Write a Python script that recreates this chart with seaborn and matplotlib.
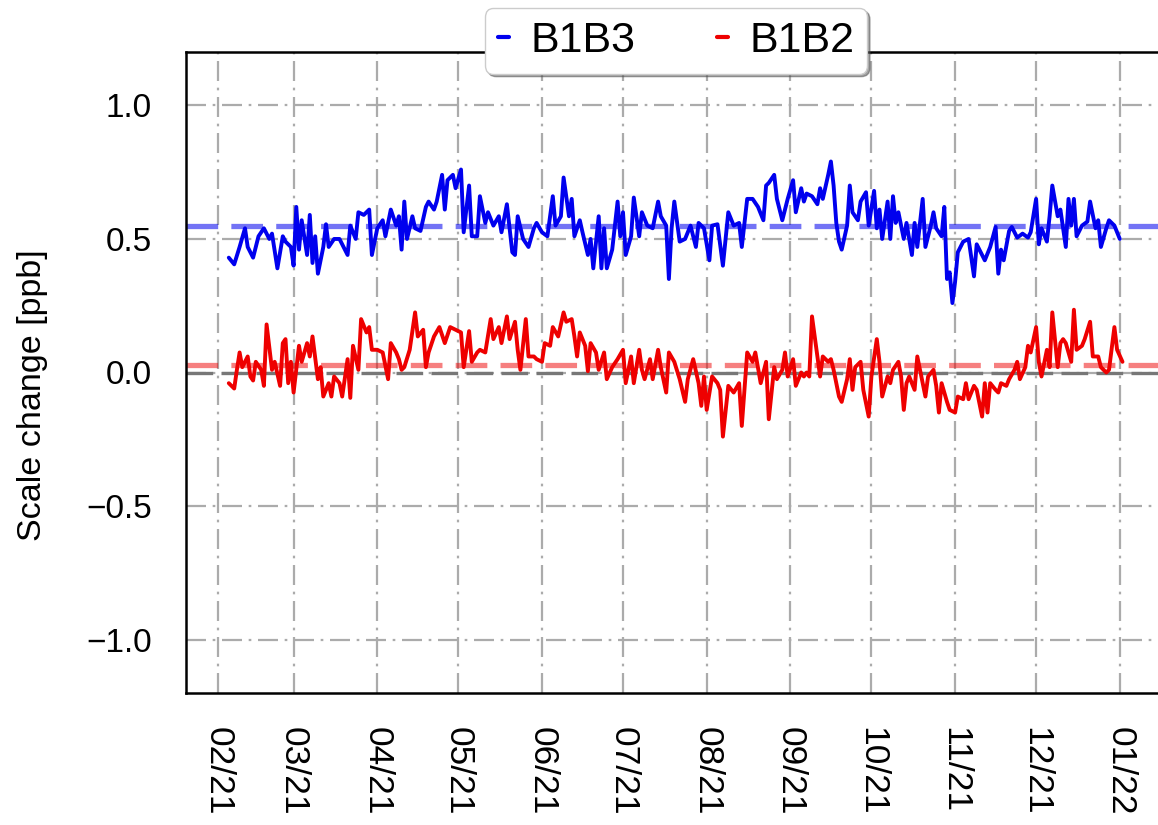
import numpy as np
import pandas as pd
import matplotlib
matplotlib.use("Agg")
import matplotlib.pyplot as plt
import matplotlib.dates as mdates
import seaborn as sns

# Day offsets from 2021-02-01 and daily scale change values [ppb]
b1b3_days = [4, 6, 8, 10, 11, 13, 15, 17, 19, 20, 22, 24, 25, 27, 28, 29, 30, 31, 33, 34,
             35, 36, 37, 39, 40, 41, 43, 45, 46, 48, 49, 51, 52, 54, 56, 57, 59, 61, 62, 64,
             66, 67, 68, 69, 70, 72, 73, 75, 77, 78, 80, 81, 83, 84, 85, 87, 88, 90, 91, 93,
             94, 96, 97, 99, 100, 102, 104, 105, 107, 109, 110, 111, 113, 115, 117, 118, 120, 122, 124, 125,
             127, 128, 130, 131, 132, 134, 135, 137, 138, 139, 141, 142, 143, 144, 146, 148, 149, 150, 151, 153,
             154, 156, 157, 159, 161, 163, 164, 166, 167, 168, 169, 171, 173, 175, 177, 178, 180, 182, 183, 185,
             187, 189, 191, 193, 194, 196, 198, 200, 202, 203, 204, 206, 207, 209, 211, 213, 214, 216, 217, 218,
             220, 222, 223, 224, 226, 227, 228, 229, 230, 231, 233, 234, 235, 237, 238, 240, 241, 243, 244, 245,
             246, 248, 249, 250, 251, 252, 254, 255, 257, 258, 259, 261, 262, 264, 265, 266, 268, 269, 270, 271,
             272, 273, 274, 276, 278, 280, 281, 282, 284, 286, 288, 289, 290, 291, 293, 294, 296, 298, 300, 301,
             303, 304, 305, 307, 308, 309, 311, 312, 314, 315, 316, 317, 318, 320, 322, 323, 325, 326, 327, 329,
             330, 332, 334]
b1b3_vals = [0.43, 0.405, 0.47, 0.54, 0.47, 0.43, 0.51, 0.54, 0.50, 0.52, 0.39, 0.51, 0.49, 0.47, 0.40, 0.62, 0.46, 0.57, 0.44, 0.59,
             0.41, 0.51, 0.37, 0.47, 0.555, 0.47, 0.50, 0.50, 0.48, 0.44, 0.55, 0.50, 0.60, 0.59, 0.61, 0.44, 0.54, 0.57, 0.51, 0.61,
             0.55, 0.585, 0.46, 0.64, 0.50, 0.585, 0.54, 0.53, 0.62, 0.64, 0.61, 0.64, 0.74, 0.61, 0.72, 0.74, 0.69, 0.76, 0.525, 0.70,
             0.51, 0.51, 0.66, 0.56, 0.60, 0.55, 0.585, 0.525, 0.63, 0.45, 0.44, 0.585, 0.50, 0.47, 0.54, 0.56, 0.525, 0.51, 0.66, 0.55,
             0.585, 0.73, 0.585, 0.65, 0.51, 0.57, 0.525, 0.44, 0.50, 0.39, 0.585, 0.39, 0.54, 0.39, 0.46, 0.64, 0.51, 0.60, 0.44, 0.51,
             0.655, 0.51, 0.60, 0.55, 0.54, 0.64, 0.585, 0.55, 0.35, 0.54, 0.64, 0.49, 0.50, 0.55, 0.47, 0.56, 0.54, 0.42, 0.55, 0.555,
             0.40, 0.60, 0.55, 0.56, 0.47, 0.65, 0.65, 0.62, 0.57, 0.70, 0.71, 0.74, 0.65, 0.57, 0.65, 0.72, 0.60, 0.69, 0.64, 0.67,
             0.66, 0.63, 0.69, 0.65, 0.74, 0.79, 0.70, 0.56, 0.49, 0.46, 0.55, 0.70, 0.60, 0.57, 0.64, 0.675, 0.55, 0.68, 0.54, 0.61,
             0.50, 0.64, 0.50, 0.66, 0.56, 0.60, 0.50, 0.56, 0.44, 0.56, 0.47, 0.65, 0.47, 0.55, 0.60, 0.54, 0.51, 0.62, 0.35, 0.375,
             0.26, 0.34, 0.45, 0.49, 0.50, 0.36, 0.48, 0.46, 0.42, 0.47, 0.545, 0.37, 0.46, 0.42, 0.53, 0.545, 0.505, 0.52, 0.505, 0.525,
             0.65, 0.48, 0.54, 0.49, 0.585, 0.70, 0.585, 0.61, 0.47, 0.65, 0.55, 0.65, 0.51, 0.55, 0.565, 0.64, 0.54, 0.57, 0.47, 0.54,
             0.57, 0.55, 0.50]

b1b2_days = [4, 6, 7, 8, 9, 11, 12, 13, 14, 16, 17, 18, 20, 21, 23, 24, 25, 26, 27, 28,
             30, 31, 33, 34, 35, 37, 38, 39, 41, 42, 43, 45, 46, 48, 49, 50, 52, 53, 55, 56,
             57, 59, 61, 63, 64, 66, 67, 68, 69, 71, 73, 74, 76, 77, 78, 80, 82, 84, 86, 88,
             90, 91, 93, 94, 96, 97, 99, 101, 102, 104, 105, 107, 108, 110, 111, 112, 114, 115, 117, 118,
             120, 121, 123, 124, 126, 128, 129, 131, 132, 133, 134, 136, 137, 138, 140, 141, 143, 144, 146, 148,
             150, 151, 153, 154, 156, 157, 158, 160, 161, 163, 164, 166, 167, 169, 171, 173, 174, 176, 178, 179,
             180, 181, 183, 185, 186, 187, 189, 191, 193, 194, 196, 198, 199, 201, 203, 204, 206, 207, 209, 210,
             211, 213, 214, 216, 217, 218, 219, 220, 222, 223, 224, 226, 227, 228, 229, 230, 231, 233, 234, 235,
             236, 238, 239, 241, 242, 244, 245, 246, 248, 249, 250, 252, 253, 254, 255, 256, 258, 259, 261, 262,
             263, 265, 266, 267, 268, 270, 271, 273, 274, 276, 277, 278, 280, 281, 283, 284, 285, 286, 288, 289,
             290, 292, 293, 295, 296, 297, 299, 300, 301, 303, 304, 305, 307, 308, 309, 311, 312, 313, 314, 316,
             317, 318, 320, 321, 323, 324, 326, 327, 329, 330, 332, 333, 335]
b1b2_vals = [-0.04, -0.06, 0.01, 0.075, 0.02, 0.06, -0.015, -0.03, 0.04, 0.01, -0.05, 0.18, 0.01, 0.04, -0.05, 0.11, 0.125, -0.04, 0.04, -0.075,
             0.10, 0.04, 0.11, 0.06, 0.135, -0.025, 0.02, -0.09, -0.04, -0.09, -0.015, -0.04, -0.09, 0.05, -0.095, 0.10, 0.01, 0.20, 0.15, 0.17,
             0.085, 0.085, 0.075, -0.025, 0.11, 0.075, 0.05, 0.01, 0.02, 0.085, 0.225, 0.135, 0.16, 0.02, 0.075, 0.135, 0.17, 0.11, 0.17, 0.16,
             0.15, 0.02, 0.155, 0.04, 0.075, 0.085, 0.075, 0.20, 0.125, 0.17, 0.11, 0.21, 0.125, 0.19, 0.085, 0.01, 0.20, 0.06, 0.06, 0.05,
             0.04, 0.11, 0.10, 0.17, 0.135, 0.225, 0.19, 0.20, 0.135, 0.06, 0.15, 0.10, 0.005, 0.11, 0.075, 0.01, 0.075, -0.025, 0.02, 0.05,
             0.085, -0.04, 0.06, -0.04, 0.085, 0.01, -0.025, 0.05, -0.025, 0.085, 0.02, -0.075, 0.075, 0.04, -0.025, -0.11, -0.025, 0.05, -0.04, -0.125,
             -0.015, -0.14, -0.015, -0.04, -0.065, -0.24, -0.05, -0.075, -0.04, -0.20, 0.075, 0.04, 0.075, -0.04, 0.04, -0.175, 0.02, -0.025, 0.01, 0.075,
             -0.015, 0.05, -0.05, 0.0, -0.015, 0.0, -0.015, 0.21, 0.06, -0.015, 0.06, 0.04, 0.05, 0.01, -0.04, -0.09, -0.11, -0.025, 0.05, -0.065,
             0.02, 0.04, -0.065, -0.165, -0.015, 0.125, 0.04, -0.09, -0.015, -0.04, 0.01, 0.04, -0.015, -0.14, -0.04, -0.015, -0.065, 0.06, -0.04, -0.09,
             -0.015, 0.01, -0.05, -0.15, -0.04, -0.11, -0.14, -0.15, -0.09, -0.10, -0.04, -0.10, -0.05, -0.065, -0.165, -0.04, -0.15, -0.04, -0.065, -0.075,
             -0.04, -0.05, -0.025, 0.01, 0.04, -0.025, 0.02, 0.10, 0.075, 0.17, 0.04, -0.015, 0.085, 0.02, 0.225, 0.02, 0.11, 0.125, 0.11, 0.04,
             0.235, 0.085, 0.10, 0.125, 0.19, 0.06, 0.06, 0.02, 0.0, 0.01, 0.17, 0.085, 0.04]

# Mean offsets drawn as reference lines
b1b3_mean = 0.55
b1b2_mean = 0.028

series_names = ["B1B3", "B1B2"]
series_colors = ["#0000ee", "#ee0000"]
y_ticks = [-1.0, -0.5, 0.0, 0.5, 1.0]

start = pd.Timestamp("2021-02-01")
df = pd.concat([
    pd.DataFrame({"date": start + pd.to_timedelta(b1b3_days, unit="D"),
                  "value": b1b3_vals, "pair": series_names[0]}),
    pd.DataFrame({"date": start + pd.to_timedelta(b1b2_days, unit="D"),
                  "value": b1b2_vals, "pair": series_names[1]}),
], ignore_index=True)

sns.set_style("white")
plt.rcParams["font.family"] = ["Liberation Sans", "DejaVu Sans"]
plt.rcParams["text.color"] = "black"
plt.rcParams["axes.labelcolor"] = "black"
plt.rcParams["xtick.color"] = "black"
plt.rcParams["ytick.color"] = "black"

W, H = 1158, 825
fig = plt.figure(figsize=(W / 100, H / 100), dpi=100)
ax = fig.add_axes([186 / W, 132 / H, 1004 / W, 641 / H])

grid_style = dict(color="#ababab", lw=1.6, ls=(0, (9, 3, 1.2, 3)))
ax.grid(True, **grid_style)
ax.set_axisbelow(True)

ax.axhline(0.0, color="#777777", lw=2.4, ls=(0, (8, 2.5)), zorder=1.5)
ax.axhline(b1b3_mean, color=series_colors[0], alpha=0.55, lw=3.8, ls=(0, (6, 2.5)), zorder=1.6)
ax.axhline(b1b2_mean, color=series_colors[1], alpha=0.5, lw=3.8, ls=(0, (6, 2.5)), zorder=1.6)

sns.lineplot(data=df, x="date", y="value", hue="pair", hue_order=series_names,
             palette=series_colors, lw=2.8, ax=ax, legend=False, zorder=3)

ax.set_xlim(start - pd.Timedelta(days=11.85), start + pd.Timedelta(days=360))
ax.set_ylim(-1.2, 1.2)
ax.set_yticks(y_ticks)
ax.set_xlabel("")
ax.set_ylabel("Scale change [ppb]", fontsize=24.5)
ax.yaxis.set_label_coords(-0.137, 0.465)

ax.xaxis.set_major_locator(mdates.MonthLocator())
ax.xaxis.set_major_formatter(mdates.DateFormatter("%m/%y"))
ax.tick_params(axis="both", which="major", direction="out", length=11.5, width=1.6,
               color="black")
ax.tick_params(axis="y", labelsize=24, pad=13)
ax.tick_params(axis="x", labelsize=25.5, labelrotation=270, pad=13)

for side in ["left", "bottom", "top"]:
    ax.spines[side].set_visible(True)
    ax.spines[side].set_color("black")
    ax.spines[side].set_linewidth(1.8)

handles = [plt.Line2D([], [], color=c, lw=3.0) for c in series_colors]
leg = fig.legend(handles, series_names, loc="upper center",
                 bbox_to_anchor=(676 / W, 1 - 8 / H), ncol=2, fontsize=31,
                 handlelength=0.25, handletextpad=0.5, columnspacing=1.9,
                 frameon=True, fancybox=True, shadow=True, framealpha=1,
                 edgecolor="#cccccc", borderpad=0.3, borderaxespad=0)

fig.savefig("out.png", dpi=100, facecolor="white")
